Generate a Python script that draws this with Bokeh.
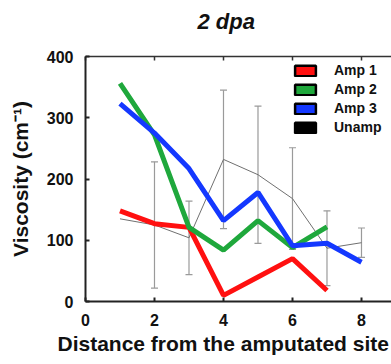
from bokeh.plotting import figure
from bokeh.models import (ColumnDataSource, Whisker, TeeHead, Range1d, LinearAxis,
                          FixedTicker, Legend, LegendItem, Title, CustomJSTickFormatter)
from bokeh.embed import file_html
from bokeh.resources import INLINE

# ---- data ----
amp1_x = [1, 2, 3, 4, 5, 6, 7]
amp1_y = [148, 127, 121, 10, 40, 70, 18]
amp2_x = [1, 2, 3, 4, 5, 6, 7]
amp2_y = [356, 272, 121, 84, 132, 88, 122]
amp3_x = [1, 2, 3, 4, 5, 6, 7, 8]
amp3_y = [323, 275, 217, 132, 178, 91, 95, 64]
unamp_x = [1, 2, 3, 4, 5, 6, 7, 8]
unamp_y = [135, 125, 104, 232, 207, 168, 87, 96]
unamp_err = [0, 103, 60, 113, 112, 83, 61, 24]
x_ticks = [0, 2, 4, 6, 8]
y_ticks = [0, 100, 200, 300, 400]
series_names = ["Amp 1", "Amp 2", "Amp 3", "Unamp"]
series_colors = ["#ff1010", "#1fa83c", "#1438ff", "#000000"]
title_text = "2 dpa"

FONT = "Liberation Sans"

p = figure(width=391, height=364, output_backend="svg", toolbar_location=None,
           x_range=Range1d(0, 8.87), y_range=Range1d(0, 400),
           min_border_left=85, min_border_right=0, min_border_top=56,
           min_border_bottom=63, outline_line_color=None,
           background_fill_color="white", border_fill_color="white")
p.grid.visible = False

# title: a blank second line lifts the text away from the frame
p.title.text = title_text + "\n "
p.title.text_font = FONT
p.title.text_font_style = "bold italic"
p.title.text_font_size = "22px"
p.title.text_line_height = 0.92
p.title.text_color = "#111111"
p.title.align = "left"
p.title.offset = 112
p.title.standoff = 0

# axes
for ax in [p.xaxis[0], p.yaxis[0]]:
    ax.axis_line_width = 2
    ax.axis_line_color = "#222222"
    ax.major_tick_in = 4
    ax.major_tick_out = 0
    ax.major_tick_line_width = 2
    ax.major_tick_line_color = "#222222"
    ax.minor_tick_line_color = None
    ax.major_label_text_font = FONT
    ax.major_label_text_font_style = "bold"
    ax.major_label_text_font_size = "16px"
    ax.major_label_text_color = "#111111"
p.xaxis[0].ticker = FixedTicker(ticks=x_ticks)
p.yaxis[0].ticker = FixedTicker(ticks=y_ticks)
p.xaxis[0].major_label_standoff = 12
p.yaxis[0].major_label_standoff = 12

p.yaxis[0].axis_label = "Viscosity (cm\u207b\u00b9)"
p.yaxis[0].axis_label_text_font = FONT
p.yaxis[0].axis_label_text_font_style = "bold"
p.yaxis[0].axis_label_text_font_size = "21px"
p.yaxis[0].axis_label_text_color = "#111111"
p.yaxis[0].axis_label_standoff = 12

top_axis = LinearAxis(ticker=FixedTicker(ticks=x_ticks), axis_line_width=1.5,
                      axis_line_color="#333333", major_tick_in=4, major_tick_out=0,
                      major_tick_line_width=1.5, major_tick_line_color="#333333",
                      minor_tick_line_color=None,
                      formatter=CustomJSTickFormatter(code="return ''"),
                      major_label_standoff=0)
p.add_layout(top_axis, "above")

xlab = Title(text="Distance from the amputated site", text_font=FONT,
             text_font_style="bold", text_font_size="21px", text_color="#111111",
             align="left", offset=-28, standoff=3)
p.add_layout(xlab, "below")

# unamp error bars + line
err_x = [x for x, e in zip(unamp_x, unamp_err) if e > 0]
err_lo = [y - e for y, e in zip(unamp_y, unamp_err) if e > 0]
err_hi = [y + e for y, e in zip(unamp_y, unamp_err) if e > 0]
esrc = ColumnDataSource(dict(x=err_x, lo=err_lo, hi=err_hi))
wh = Whisker(base="x", lower="lo", upper="hi", source=esrc, line_color="#9a9a9a",
             line_width=1.2,
             upper_head=TeeHead(size=7, line_color="#9a9a9a", line_width=1.2),
             lower_head=TeeHead(size=7, line_color="#9a9a9a", line_width=1.2))
p.add_layout(wh)
p.line(unamp_x, unamp_y, line_color="#707070", line_width=1)

p.line(amp1_x, amp1_y, line_color=series_colors[0], line_width=5)
p.line(amp2_x, amp2_y, line_color=series_colors[1], line_width=5)
p.line(amp3_x, amp3_y, line_color=series_colors[2], line_width=5)

# legend swatches (dummy renderers placed outside the visible range)
items = []
for name, col in zip(series_names, series_colors):
    r = p.quad(left=[-3], right=[-2], top=[-2], bottom=[-3], fill_color=col,
               line_color="#000000", line_width=2.5)
    items.append(LegendItem(label=name, renderers=[r]))
leg = Legend(items=items, location=(207, 166), glyph_width=26, glyph_height=13,
             label_height=12, spacing=3, padding=0, margin=0, label_standoff=16,
             border_line_color=None, background_fill_alpha=0,
             label_text_font=FONT, label_text_font_style="bold",
             label_text_font_size="14px", label_text_color="#111111")
p.add_layout(leg, "center")

open("out.html", "w").write(file_html(p, INLINE))
